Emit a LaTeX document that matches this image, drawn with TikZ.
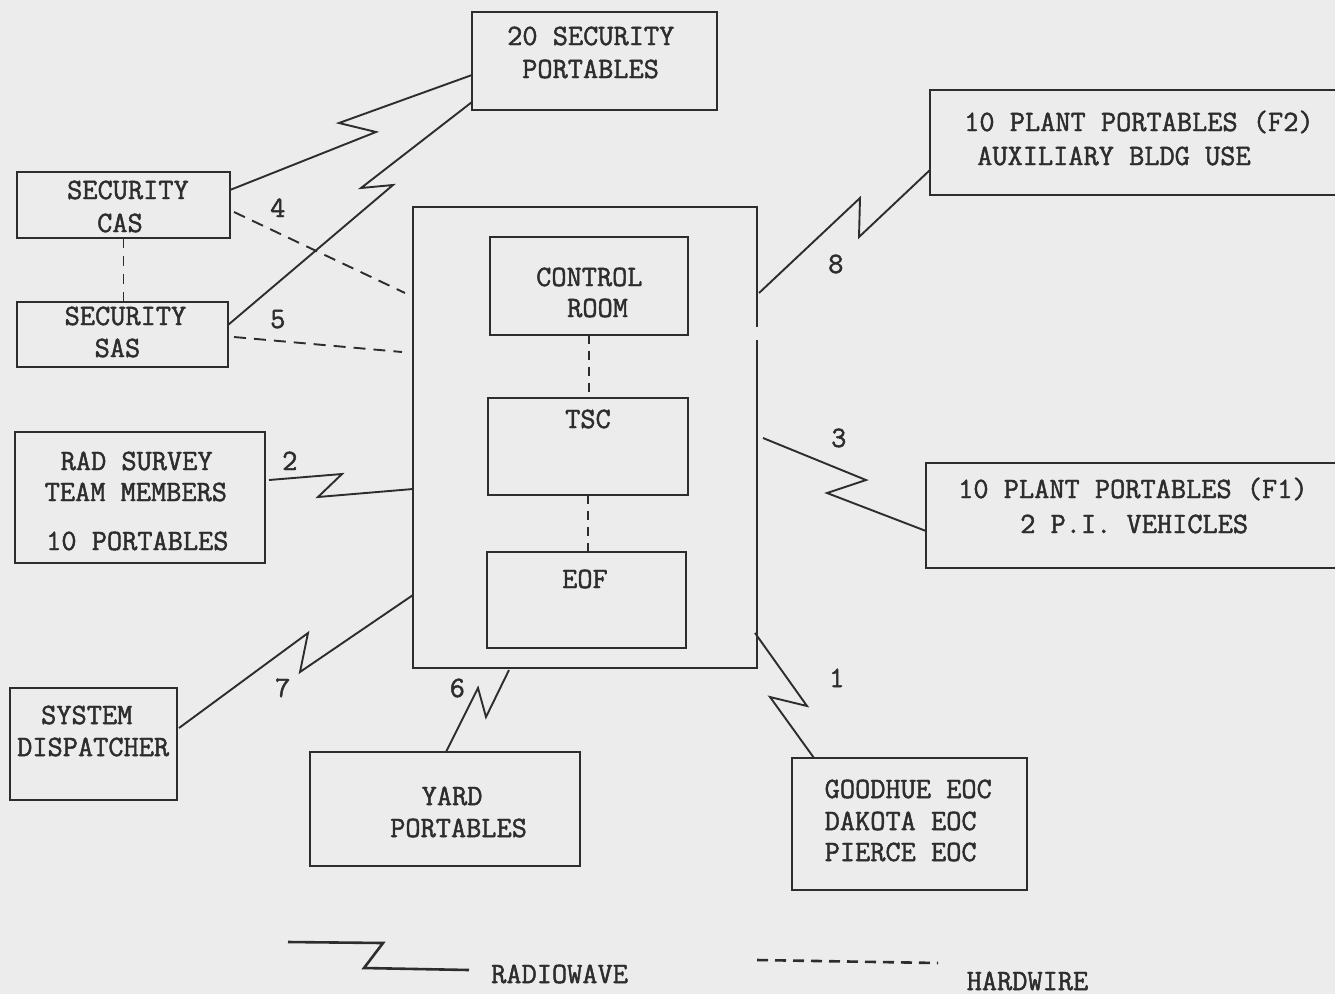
\documentclass[tikz,border=0pt]{standalone}
\usepackage{fontspec}
\newfontfamily\tw{Latin Modern Mono}[FakeBold=1.6]
\usetikzlibrary{calc}
\definecolor{bgc}{RGB}{236,236,236}
\definecolor{ink}{RGB}{45,45,45}
\begin{document}
\begin{tikzpicture}[x=1pt,y=-1pt,
  box/.style={draw=ink, line width=2.3pt, inner sep=0pt, outer sep=0pt},
  txt/.style={anchor=base west, inner sep=0pt, text=ink, font=\fontsize{29.5}{32}\selectfont\tw},
  radio/.style={draw=ink, line width=1.9pt, line join=miter},
  hard/.style={draw=ink, line width=1.9pt, dash pattern=on 12pt off 8pt}]
\useasboundingbox (0,0) rectangle (1335,994);
\fill[bgc] (0,0) rectangle (1335,994);
% boxes
\node[box, minimum width=245pt, minimum height=98pt] (sec20) at (594.5,61) {};
\node[box, minimum width=415pt, minimum height=105pt] (f2) at (1137.5,142.5) {};
\node[box, minimum width=213pt, minimum height=66pt] (cas) at (123.5,205) {};
\node[box, minimum width=211pt, minimum height=65pt] (sas) at (122.5,334.5) {};
\node[box, minimum width=344pt, minimum height=461pt] (main) at (585,437.5) {};
\node[box, minimum width=198pt, minimum height=98pt] (cr) at (589,286) {};
\node[box, minimum width=200pt, minimum height=97pt] (tsc) at (588,446.5) {};
\node[box, minimum width=199pt, minimum height=96pt] (eof) at (586.5,600) {};
\node[box, minimum width=250pt, minimum height=131pt] (rad) at (140,497.5) {};
\node[box, minimum width=419pt, minimum height=105pt] (f1) at (1135.5,515.5) {};
\node[box, minimum width=167pt, minimum height=112pt] (disp) at (93.5,744) {};
\node[box, minimum width=270pt, minimum height=114pt] (yard) at (445,809) {};
\node[box, minimum width=235pt, minimum height=132pt] (eoc) at (909.5,824) {};
% small break in the right edge of the main box
\fill[bgc] ($(main.north east)+(-3,120)$) rectangle ++(6,13);
% texts
\node[txt] (t1) at (507,45) {20 SECURITY};
\node[txt] (t2) at (522,78) {PORTABLES};
\node[txt] (t3) at (67,199) {SECURITY};
\node[txt] (t4) at (97,232) {CAS};
\node[txt] (t5) at (64.5,325) {SECURITY};
\node[txt] (t6) at (94.5,357) {SAS};
\node[txt] (t7) at (536,286) {CONTROL};
\node[txt] (t8) at (567,317) {ROOM};
\node[txt] (t9) at (565,428) {TSC};
\node[txt] (t10) at (562,588) {EOF};
\node[txt] (t11) at (60.5,470) {RAD SURVEY};
\node[txt] (t12) at (44.5,501) {TEAM MEMBERS};
\node[txt] (t13) at (46,550) {10 PORTABLES};
\node[txt] (t14) at (41,724) {SYSTEM};
\node[txt] (t15) at (17,756) {DISPATCHER};
\node[txt] (t16) at (421.5,805) {YARD};
\node[txt] (t17) at (390,837) {PORTABLES};
\node[txt] (t18) at (964,131) {10 PLANT PORTABLES (F2)};
\node[txt] (t19) at (977,165) {AUXILIARY BLDG USE};
\node[txt] (t20) at (958,498) {10 PLANT PORTABLES (F1)};
\node[txt] (t21) at (1020,533) {2 P.I. VEHICLES};
\node[txt] (t22) at (824.5,798) {GOODHUE EOC};
\node[txt] (t23) at (824.5,830) {DAKOTA EOC};
\node[txt] (t24) at (824.5,861) {PIERCE EOC};
\node[txt] (t25) at (491,983) {RADIOWAVE};
\node[txt] (t26) at (966.5,990) {HARDWIRE};
% number labels
\node[txt] (n4) at (270,217) {4};
\node[txt] (n5) at (270,328) {5};
\node[txt] (n2) at (282,470) {2};
\node[txt] (n7) at (275,697) {7};
\node[txt] (n6) at (449.5,697) {6};
\node[txt] (n1) at (829,687) {1};
\node[txt] (n8) at (828,273) {8};
\node[txt] (n3) at (831,447) {3};
% hardwire connectors
\draw[hard] ($(cas.north east)+(4,40)$) -- ($(main.north west)+(-8,86)$);
\draw[hard] ($(sas.north east)+(6,35)$) -- ($(main.north west)+(-11,145)$);
\draw[hard, dash pattern=on 10pt off 8pt] (cas.south) -- (cas.south |- sas.north);
\draw[hard, dash pattern=on 9pt off 7pt] (cr.south) -- (cr.south |- tsc.north);
\draw[hard, dash pattern=on 9pt off 7pt] (tsc.south) -- (tsc.south |- eof.north);
% radiowave connectors
\draw[radio] ($(cas.north east)+(0,18)$) -- (376,132) -- (339,123) -- ($(sec20.north west)+(0,63)$);
\draw[radio] ($(sas.north east)+(0,23)$) -- (393,185) -- (361,188) -- ($(sec20.south west)+(0,-8)$);
\draw[radio] ($(rad.north east)+(4,48)$) -- (342,474) -- (318,497) -- ($(main.north west)+(0,282)$);
\draw[radio] ($(disp.north east)+(2,40)$) -- (308,633) -- (300,672) -- ($(main.north west)+(0,388)$);
\draw[radio] ($(main.south west)+(96,2)$) -- (486,717) -- (478,688) -- ($(yard.north west)+(136,0)$);
\draw[radio] ($(main.south east)+(-2,-35)$) -- (807,706) -- (770,697) -- ($(eoc.north west)+(22,0)$);
\draw[radio] ($(main.north east)+(2,86)$) -- (860,198) -- (859,237) -- ($(f2.south west)+(0,-25)$);
\draw[radio] ($(main.north east)+(6,231)$) -- (866,480) -- (827,493) -- ($(f1.north west)+(0,68)$);
% legend
\coordinate (rwa) at (288,942);
\coordinate (rwb) at (469,970);
\draw[radio, line width=2.6pt] (rwa) -- (383,943) -- (364,968) -- (rwb);
\coordinate (hwa) at (757,960);
\coordinate (hwb) at (938,963);
\draw[hard, line width=2.6pt, dash pattern=on 11pt off 7pt] (hwa) -- (hwb);
\end{tikzpicture}
\end{document}
